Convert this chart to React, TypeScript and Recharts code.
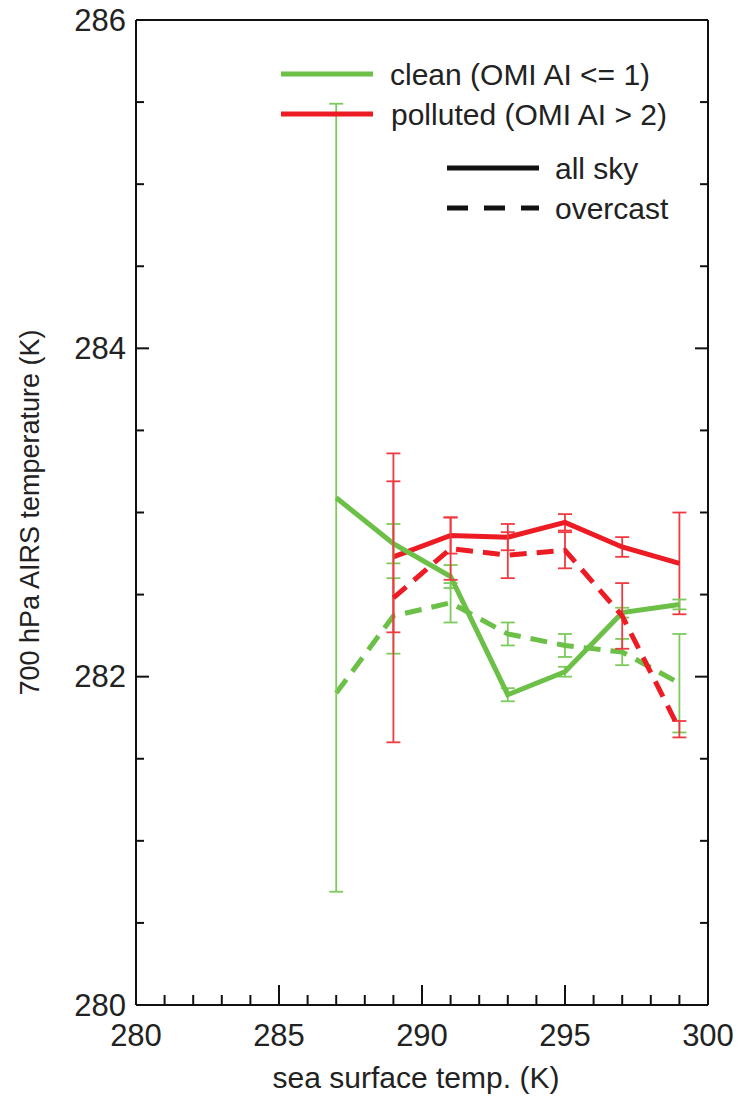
import { ComposedChart, Line, XAxis, YAxis, ErrorBar, Legend } from 'recharts';

const sst = [287, 289, 291, 293, 295, 297, 299];

const cleanAllSky = [283.09, 282.81, 282.61, 281.89, 282.03, 282.39, 282.44];
const cleanAllSkyErr = [2.4, 0.12, 0.07, 0.04, 0.03, 0.03, 0.03];
const cleanOvercast = [281.9, 282.37, 282.45, 282.26, 282.19, 282.15, 281.96];
const cleanOvercastErr = [0, 0.23, 0.12, 0.07, 0.07, 0.08, 0.3];

const pollutedAllSky = [null, 282.73, 282.86, 282.85, 282.94, 282.79, 282.69];
const pollutedAllSkyErr = [null, 0.46, 0.11, 0.08, 0.05, 0.06, 0.31];
const pollutedOvercast = [null, 282.48, 282.78, 282.74, 282.77, 282.37, 281.68];
const pollutedOvercastErr = [null, 0.88, 0.19, 0.14, 0.11, 0.2, 0.05];

const xTicks = Array.from({ length: 21 }, (_, i) => 280 + i);
const yTicks = Array.from({ length: 13 }, (_, i) => 280 + i * 0.5);

const GREEN = '#6cbf47';
const GREEN_BAR = '#7ccb5c';
const RED = '#ed1c24';
const RED_BAR = '#ef3a40';
const FONT = '"Liberation Sans", Arial, sans-serif';

const data = sst.map((x, i) => ({
  x,
  cleanAll: cleanAllSky[i],
  cleanAllErr: cleanAllSkyErr[i],
  cleanOc: cleanOvercast[i],
  cleanOcErr: cleanOvercastErr[i],
  polAll: pollutedAllSky[i],
  polAllErr: pollutedAllSkyErr[i],
  polOc: pollutedOvercast[i],
  polOcErr: pollutedOvercastErr[i],
}));

// ticks point into the plot; labels sit outside
const BottomTick = ({ x, y, payload }: any) => {
  const major = payload.value % 5 === 0;
  return (
    <g>
      <line x1={x} x2={x} y1={y} y2={y - (major ? 20 : 10)} stroke="#111" strokeWidth={2} />
      {major && (
        <text x={x} y={y + 30} textAnchor="middle" dominantBaseline="central" fontSize={31} fontFamily={FONT} fill="#222">
          {payload.value}
        </text>
      )}
    </g>
  );
};

const TopTick = ({ x, y, payload }: any) => {
  const major = payload.value % 5 === 0;
  return <line x1={x} x2={x} y1={y} y2={y + (major ? 20 : 10)} stroke="#111" strokeWidth={2} />;
};

const LeftTick = ({ x, y, payload }: any) => {
  const major = payload.value % 2 === 0;
  return (
    <g>
      <line x1={x} x2={x + (major ? 13 : 8)} y1={y} y2={y} stroke="#111" strokeWidth={2} />
      {major && (
        <text x={x - 10} y={y} textAnchor="end" dominantBaseline="central" fontSize={31} fontFamily={FONT} fill="#222">
          {payload.value}
        </text>
      )}
    </g>
  );
};

const RightTick = ({ x, y, payload }: any) => {
  const major = payload.value % 2 === 0;
  return <line x1={x} x2={x - (major ? 13 : 8)} y1={y} y2={y} stroke="#111" strokeWidth={2} />;
};

const XTitle = ({ viewBox }: any) => (
  <text x={viewBox.x + viewBox.width / 2 - 6} y={viewBox.y + 72} textAnchor="middle" dominantBaseline="central" fontSize={30} fontFamily={FONT} fill="#222">
    sea surface temp. (K)
  </text>
);

const YTitle = ({ viewBox }: any) => {
  const cy = viewBox.y + viewBox.height / 2;
  return (
    <text x={30} y={cy} transform={`rotate(-90 30 ${cy})`} textAnchor="middle" dominantBaseline="central" fontSize={27} fontFamily={FONT} fill="#222">
      700 hPa AIRS temperature (K)
    </text>
  );
};

const LegendBox = () => (
  <svg width={440} height={180} style={{ display: 'block', overflow: 'visible' }}>
    <line x1={11} x2={103} y1={24} y2={24} stroke={GREEN} strokeWidth={5} />
    <text x={120} y={24} dominantBaseline="central" fontSize={30} fontFamily={FONT} fill="#222">clean (OMI AI &lt;= 1)</text>
    <line x1={11} x2={103} y1={64} y2={64} stroke={RED} strokeWidth={5} />
    <text x={121} y={64} dominantBaseline="central" fontSize={30} fontFamily={FONT} fill="#222">polluted (OMI AI &gt; 2)</text>
    <line x1={177} x2={269} y1={118} y2={118} stroke="#111" strokeWidth={5} />
    <text x={285} y={118} dominantBaseline="central" fontSize={30} fontFamily={FONT} fill="#222">all sky</text>
    <line x1={177} x2={269} y1={158} y2={158} stroke="#111" strokeWidth={5} strokeDasharray="21 16" />
    <text x={285} y={158} dominantBaseline="central" fontSize={30} fontFamily={FONT} fill="#222">overcast</text>
  </svg>
);

export default function App() {
  return (
    <div style={{ position: 'absolute', left: 0, top: 0, background: '#fff' }}>
      <ComposedChart width={743} height={1101} data={data} margin={{ top: 0, right: 0, bottom: 0, left: 0 }}>
        <XAxis
          dataKey="x"
          type="number"
          domain={[280, 300]}
          ticks={xTicks}
          interval={0}
          height={96}
          stroke="#111"
          strokeWidth={2}
          tickLine={false}
          tickSize={0}
          tickMargin={0}
          tick={BottomTick}
          label={<XTitle />}
        />
        <XAxis
          xAxisId="top"
          orientation="top"
          type="number"
          domain={[280, 300]}
          allowDataOverflow
          ticks={xTicks}
          interval={0}
          height={20}
          stroke="#111"
          strokeWidth={2}
          tickLine={false}
          tickSize={0}
          tickMargin={0}
          tick={TopTick}
        />
        <YAxis
          type="number"
          domain={[280, 286]}
          ticks={yTicks}
          interval={0}
          width={136}
          stroke="#111"
          strokeWidth={2}
          tickLine={false}
          tickSize={0}
          tickMargin={0}
          tick={LeftTick}
          label={<YTitle />}
        />
        <YAxis
          yAxisId="right"
          orientation="right"
          type="number"
          domain={[280, 286]}
          allowDataOverflow
          ticks={yTicks}
          interval={0}
          width={35}
          stroke="#111"
          strokeWidth={2}
          tickLine={false}
          tickSize={0}
          tickMargin={0}
          tick={RightTick}
        />
        <Legend
          layout="horizontal"
          verticalAlign="middle"
          align="center"
          content={<LegendBox />}
          wrapperStyle={{ top: 50, left: 270, width: 440, height: 180 }}
        />
        <Line dataKey="cleanOc" stroke={GREEN} strokeWidth={5} strokeDasharray="17 10" dot={false} isAnimationActive={false}>
          <ErrorBar dataKey="cleanOcErr" direction="y" width={7} stroke={GREEN_BAR} strokeWidth={1.8} />
        </Line>
        <Line dataKey="polAll" stroke={RED} strokeWidth={5} dot={false} isAnimationActive={false}>
          <ErrorBar dataKey="polAllErr" direction="y" width={7} stroke={RED_BAR} strokeWidth={1.8} />
        </Line>
        <Line dataKey="cleanAll" stroke={GREEN} strokeWidth={5} dot={false} isAnimationActive={false}>
          <ErrorBar dataKey="cleanAllErr" direction="y" width={7} stroke={GREEN_BAR} strokeWidth={1.8} />
        </Line>
        <Line dataKey="polOc" stroke={RED} strokeWidth={5} strokeDasharray="17 10" dot={false} isAnimationActive={false}>
          <ErrorBar dataKey="polOcErr" direction="y" width={7} stroke={RED_BAR} strokeWidth={1.8} />
        </Line>
      </ComposedChart>
    </div>
  );
}
